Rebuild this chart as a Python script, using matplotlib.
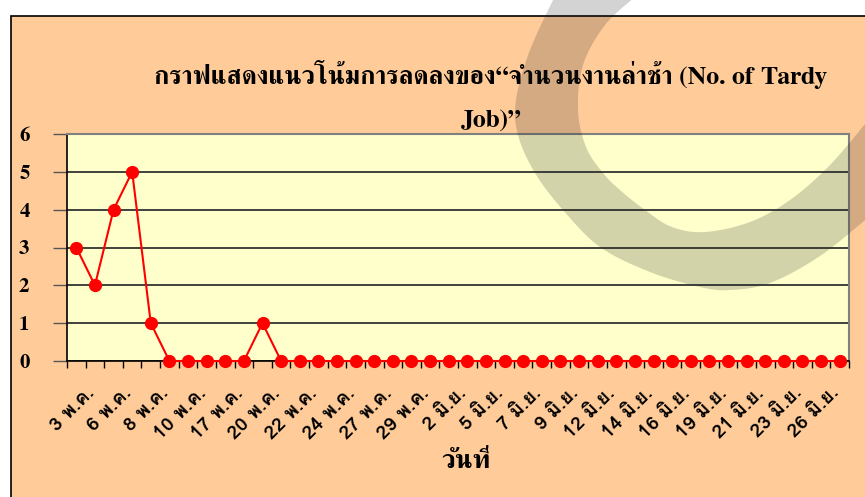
import matplotlib
matplotlib.use("Agg")
import matplotlib.pyplot as plt
import matplotlib.transforms as mtransforms
from matplotlib.patches import Rectangle, Polygon
from matplotlib.ticker import FixedLocator, MultipleLocator
import numpy as np

# ---------------- data ----------------
tardy_jobs = [3, 2, 4, 5, 1, 0, 0, 0, 0, 0, 1, 0, 0, 0, 0, 0, 0, 0, 0, 0, 0,
              0, 0, 0, 0, 0, 0, 0, 0, 0, 0, 0, 0, 0, 0, 0, 0, 0, 0, 0, 0, 0]
tick_labels = ["3 พ.ค.", "6 พ.ค.", "8 พ.ค.", "10 พ.ค.", "17 พ.ค.", "20 พ.ค.",
               "22 พ.ค.", "24 พ.ค.", "27 พ.ค.", "29 พ.ค.", "2 มิ.ย.", "5 มิ.ย.",
               "7 มิ.ย.", "9 มิ.ย.", "12 มิ.ย.", "14 มิ.ย.", "16 มิ.ย.", "19 มิ.ย.",
               "21 มิ.ย.", "23 มิ.ย.", "26 มิ.ย."]
title = "กราฟแสดงแนวโน้มการลดลงของ“จำนวนงานล่าช้า (No. of Tardy\nJob)”"
xlabel = "วันที่"

W, H = 865, 497
SERIF = ["FreeSerif", "DejaVu Serif"]
SANS = ["Loma", "DejaVu Sans"]

fig = plt.figure(figsize=(W / 100, H / 100), dpi=100)
fig.patch.set_facecolor("white")

def px(x, y):
    return (x / W, 1 - y / H)

# chart area (peach) with black border
fig.patches.append(Rectangle(px(11, H + 5), (W + 10 - 11) / W, (H + 5 - 16) / H,
                             transform=fig.transFigure, facecolor="#FFCC99",
                             edgecolor="black", linewidth=1.2, zorder=-5))

ax = fig.add_axes([67 / W, 1 - 361 / H, (849 - 67) / W, (361 - 134) / H])
ax.set_facecolor("#FFFFCC")

n = len(tardy_jobs)
xs = np.arange(n)
ax.plot(xs, tardy_jobs, color="#FF0000", linewidth=1.5, marker="o",
        markersize=8.5, markerfacecolor="#FF0000", markeredgecolor="#FF0000",
        zorder=3, clip_on=False)

ax.set_xlim(-0.5, n - 0.5)
ax.set_ylim(0, 6)
ax.yaxis.set_major_locator(MultipleLocator(1))
ax.grid(axis="y", color="#333333", linewidth=1.3)
ax.set_axisbelow(True)

# x ticks: boundaries as minor ticks, labels on every other category
ax.xaxis.set_major_locator(FixedLocator(xs[::2]))
ax.set_xticklabels(tick_labels)
ax.xaxis.set_minor_locator(FixedLocator(np.arange(n + 1) - 0.5))
ax.tick_params(axis="x", which="major", length=0, pad=21)
ax.tick_params(axis="x", which="minor", length=5, width=1, color="black")
shift = mtransforms.ScaledTranslation(15 / 100, 0, fig.dpi_scale_trans)
for lbl in ax.get_xticklabels():
    lbl.set_rotation(45)
    lbl.set_rotation_mode("anchor")
    lbl.set_ha("right")
    lbl.set_va("center")
    lbl.set_family(SANS)
    lbl.set_fontweight("bold")
    lbl.set_fontsize(14)
    lbl.set_transform(lbl.get_transform() + shift)

ax.tick_params(axis="y", length=10, width=1, color="#555555", pad=17)
for lbl in ax.get_yticklabels():
    lbl.set_family(SERIF)
    lbl.set_fontweight("bold")
    lbl.set_fontsize(15)

for s in ["left", "bottom"]:
    ax.spines[s].set_color("black")
    ax.spines[s].set_linewidth(1.2)
for s in ["top", "right"]:
    ax.spines[s].set_color("#808080")
    ax.spines[s].set_linewidth(1.5)

fig.text(*px(491, 96), title, ha="center", va="center", family=SERIF,
         fontweight="bold", fontsize=18.5, linespacing=2.2)
fig.text(*px(466, 461), xlabel, ha="center", va="center", family=SERIF,
         fontweight="bold", fontsize=19)

# decorative translucent arc band of the slide background
def smooth(points, k=12):
    p = np.asarray(points, float)
    p = np.vstack([p[0], p, p[-1]])
    out = []
    for i in range(1, len(p) - 2):
        p0, p1, p2, p3 = p[i - 1], p[i], p[i + 1], p[i + 2]
        for t in np.linspace(0, 1, k, endpoint=False):
            out.append(0.5 * ((2 * p1) + (-p0 + p2) * t +
                              (2 * p0 - 5 * p1 + 4 * p2 - p3) * t ** 2 +
                              (-p0 + 3 * p1 - 3 * p2 + p3) * t ** 3))
    out.append(p[-2])
    return out

outer = [(555, -4), (530, 50), (516, 100), (518, 135), (535, 173), (563, 210),
         (600, 247), (650, 272), (700, 287), (730, 290), (770, 283), (820, 256),
         (870, 216)]
inner = [(870, 118), (830, 165), (790, 200), (750, 222), (705, 232), (672, 227),
         (645, 210), (620, 190), (603, 173), (586, 147), (578, 110), (583, 65),
         (605, 25), (636, -4)]
pts = [px(x, y) for x, y in smooth(outer) + smooth(inner)]
fig.patches.append(Polygon(pts, closed=True, transform=fig.transFigure,
                           facecolor="#232323", alpha=0.2, edgecolor="none",
                           zorder=10))

fig.savefig("out.png", dpi=100, facecolor=fig.get_facecolor())
